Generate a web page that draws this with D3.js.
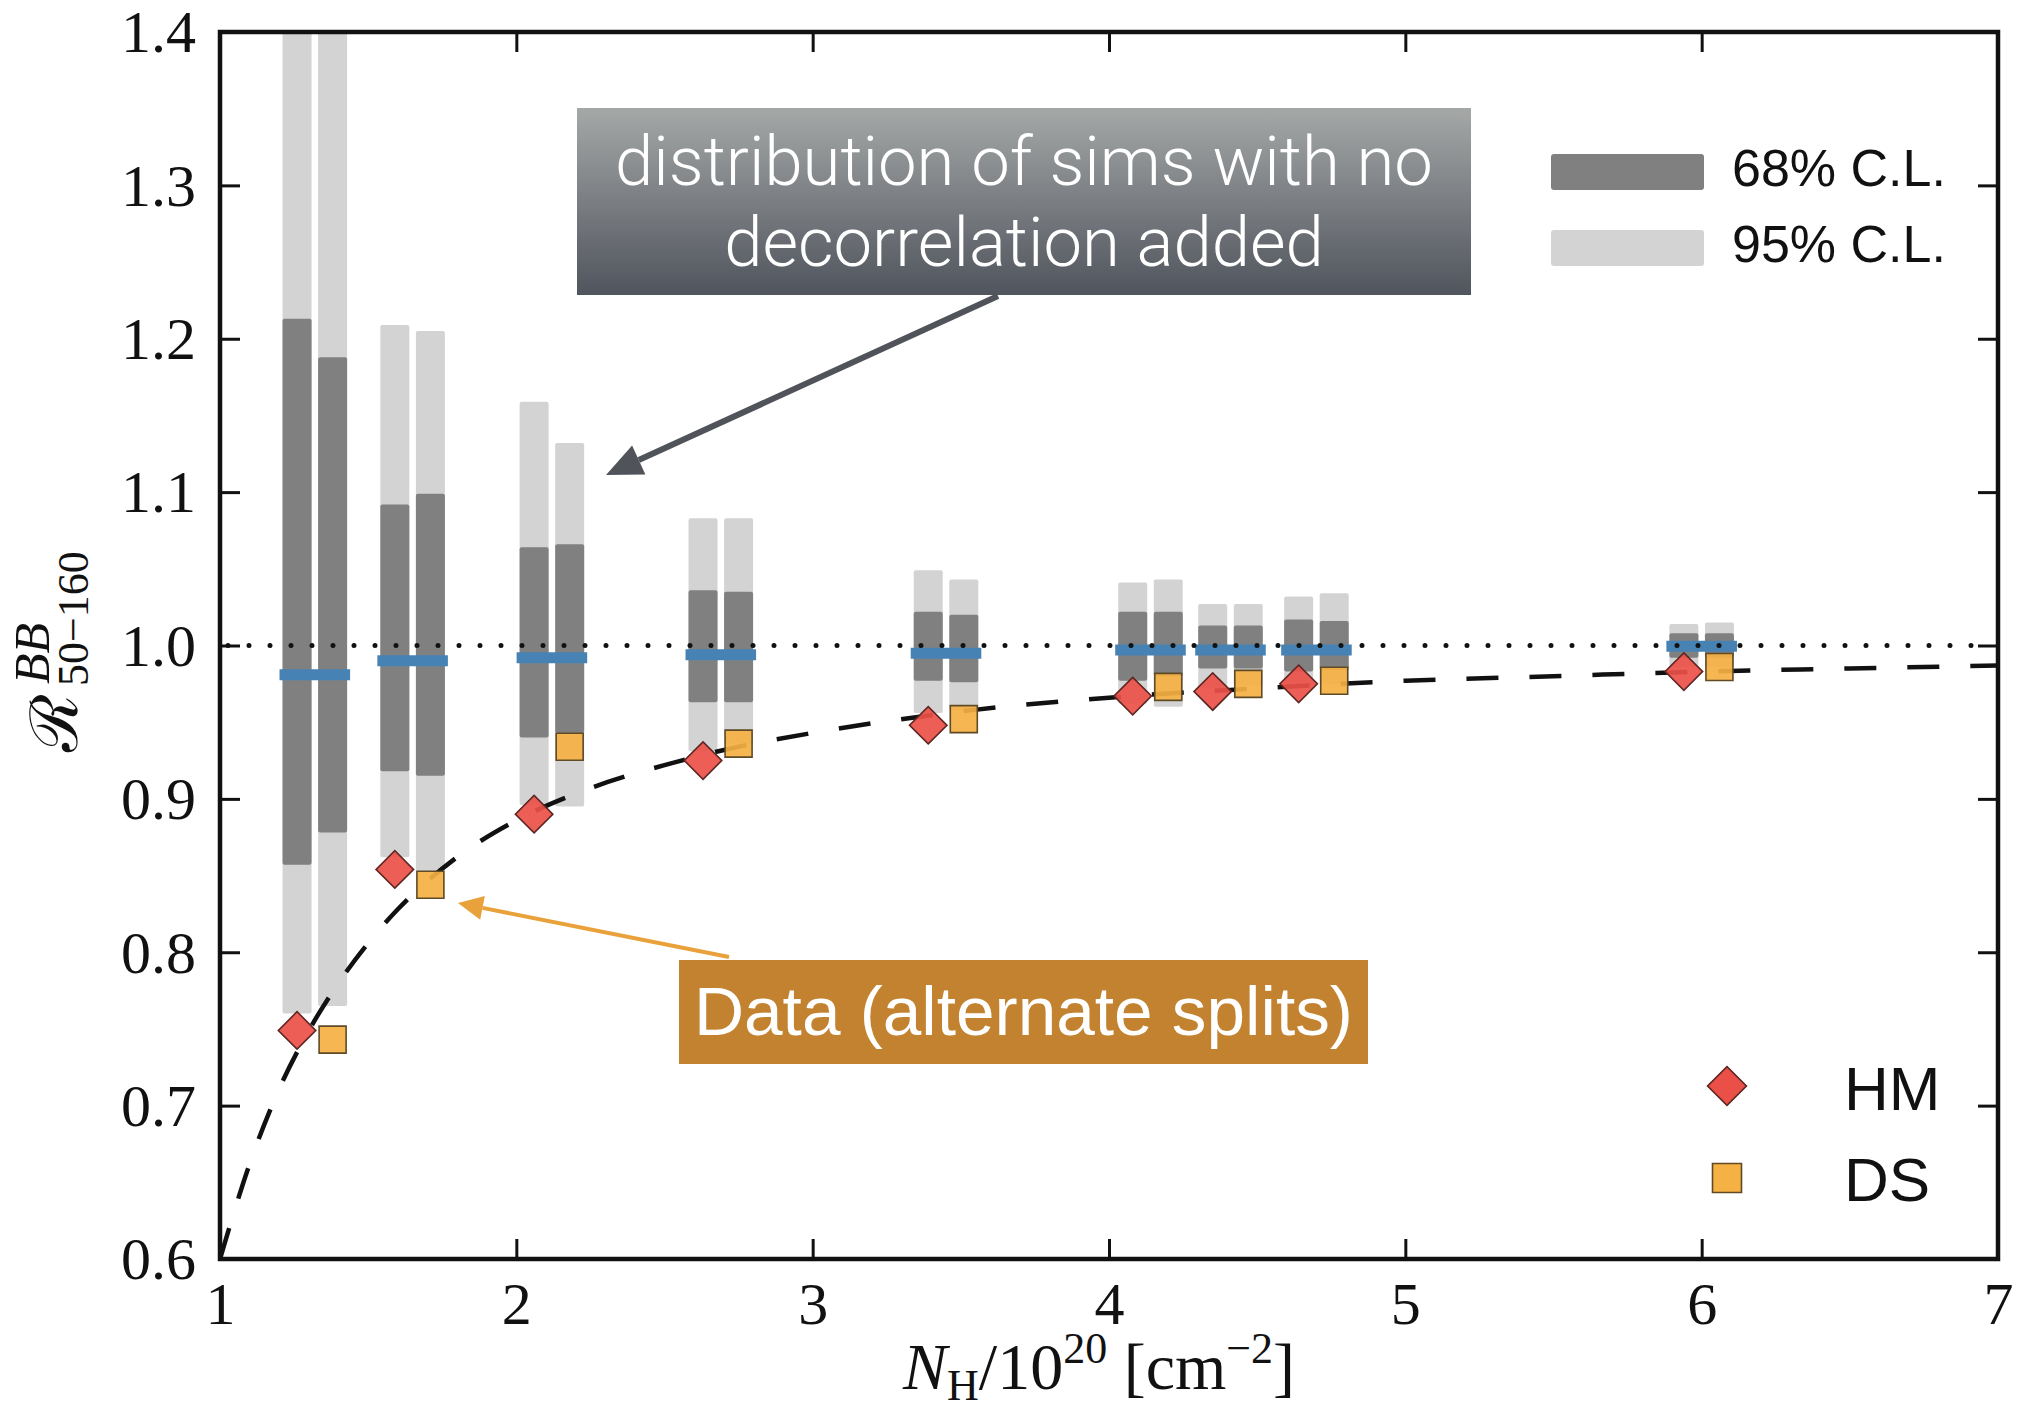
<!DOCTYPE html>
<html>
<head>
<meta charset="utf-8">
<script src="https://cdn.jsdelivr.net/npm/d3@7/dist/d3.min.js"></script>
<style>
  html, body { margin: 0; padding: 0; background: #fff; }
  svg { display: block; }
  .tick text { font-family: "Liberation Serif", "Times New Roman", serif; fill: #111; }
</style>
</head>
<body>
<div id="chart"></div>
<script>
// N_H positions of the two splits (HM slightly left, DS slightly right)
const hmX = [1.26, 1.59, 2.06, 2.63, 3.39, 4.08, 4.35, 4.64, 5.94];
const dsX = [1.38, 1.71, 2.18, 2.75, 3.51, 4.20, 4.47, 4.76, 6.06];

// data points
const hmR = [0.749, 0.854, 0.890, 0.925, 0.948, 0.967, 0.970, 0.975, 0.983];
const dsR = [0.743, 0.844, 0.934, 0.936, 0.952, 0.973, 0.975, 0.977, 0.986];

// sims, HM column: 95% / 68% ranges
const hm95lo = [0.760, 0.862, 0.896, 0.931, 0.956, 0.962, 0.972, 0.974, 0.986];
const hm68lo = [0.857, 0.918, 0.940, 0.963, 0.977, 0.977, 0.985, 0.983, 0.992];
const hm68hi = [1.213, 1.092, 1.064, 1.036, 1.022, 1.022, 1.013, 1.017, 1.008];
const hm95hi = [1.450, 1.209, 1.159, 1.083, 1.049, 1.041, 1.027, 1.032, 1.014];
// sims, DS column
const ds95lo = [0.765, 0.853, 0.895, 0.936, 0.958, 0.960, 0.974, 0.975, 0.986];
const ds68lo = [0.878, 0.915, 0.943, 0.963, 0.976, 0.980, 0.985, 0.984, 0.992];
const ds68hi = [1.188, 1.099, 1.066, 1.035, 1.020, 1.022, 1.013, 1.016, 1.008];
const ds95hi = [1.450, 1.205, 1.132, 1.083, 1.043, 1.043, 1.027, 1.034, 1.015];
// sims median
const simMedian = [0.981, 0.990, 0.992, 0.994, 0.995, 0.997, 0.997, 0.997, 0.9995];

// dashed model curve
const curveX = [1.0, 1.1, 1.2, 1.3, 1.4, 1.5, 1.6, 1.8, 2.0, 2.25, 2.5, 2.75, 3.0, 3.5, 4.0, 4.5, 5.0, 5.5, 6.0, 6.5, 7.0];
const curveY = [0.600, 0.662, 0.711, 0.749, 0.780, 0.806, 0.828, 0.862, 0.886, 0.907, 0.922, 0.934, 0.943, 0.957, 0.966, 0.972, 0.977, 0.980, 0.983, 0.985, 0.987];

const xTicks = [1, 2, 3, 4, 5, 6, 7];
const yTicks = [0.6, 0.7, 0.8, 0.9, 1.0, 1.1, 1.2, 1.3, 1.4];

const W = 2017, H = 1414;
const plot = {left: 220, right: 1998, top: 32, bottom: 1259};

const x = d3.scaleLinear().domain([1, 7]).range([plot.left, plot.right]);
const y = d3.scaleLinear().domain([0.6, 1.4]).range([plot.bottom, plot.top]);

const svg = d3.select("#chart").append("svg")
  .attr("width", W).attr("height", H);

svg.append("rect").attr("width", W).attr("height", H).attr("fill", "#fff");

const defs = svg.append("defs");
defs.append("clipPath").attr("id", "plotclip")
  .append("rect")
  .attr("x", plot.left).attr("y", plot.top)
  .attr("width", plot.right - plot.left).attr("height", plot.bottom - plot.top);

const grad = defs.append("linearGradient").attr("id", "boxgrad")
  .attr("x1", 0).attr("y1", 0).attr("x2", 0).attr("y2", 1);
grad.append("stop").attr("offset", "0%").attr("stop-color", "#a5a8a7");
grad.append("stop").attr("offset", "100%").attr("stop-color", "#50545d");

const g = svg.append("g").attr("clip-path", "url(#plotclip)");

// bars
const barW = 29;
function bars(xs, lo95, hi95, lo68, hi68) {
  g.append("g").selectAll("rect").data(xs).enter().append("rect")
    .attr("x", d => x(d) - barW / 2).attr("width", barW)
    .attr("y", (d, i) => y(hi95[i]))
    .attr("height", (d, i) => y(lo95[i]) - y(hi95[i]))
    .attr("rx", 2).attr("fill", "#d3d3d3");
  g.append("g").selectAll("rect").data(xs).enter().append("rect")
    .attr("x", d => x(d) - barW / 2).attr("width", barW)
    .attr("y", (d, i) => y(hi68[i]))
    .attr("height", (d, i) => y(lo68[i]) - y(hi68[i]))
    .attr("rx", 2).attr("fill", "#808080");
}
bars(hmX, hm95lo, hm95hi, hm68lo, hm68hi);
bars(dsX, ds95lo, ds95hi, ds68lo, ds68hi);

// medians
g.append("g").selectAll("line").data(simMedian).enter().append("line")
  .attr("x1", (d, i) => x(hmX[i]) - barW / 2 - 3)
  .attr("x2", (d, i) => x(dsX[i]) + barW / 2 + 3)
  .attr("y1", d => y(d)).attr("y2", d => y(d))
  .attr("stroke", "#4682b4").attr("stroke-width", 11);

// dotted line at 1
g.append("line")
  .attr("x1", x(1) + 8).attr("x2", x(7) - 20)
  .attr("y1", y(1)).attr("y2", y(1))
  .attr("stroke", "#111").attr("stroke-width", 5)
  .attr("stroke-dasharray", "0 21").attr("stroke-linecap", "round");

// dashed curve
const line = d3.line().x(d => x(d[0])).y(d => y(d[1])).curve(d3.curveMonotoneX);
g.append("path")
  .datum(curveX.map((v, i) => [v, curveY[i]]))
  .attr("d", line)
  .attr("fill", "none").attr("stroke", "#111").attr("stroke-width", 4.5)
  .attr("stroke-dasharray", "32 31");

// markers
const diamond = d3.symbol().type(d3.symbolSquare).size(26.5 * 26.5);
g.append("g").selectAll("path").data(hmX).enter().append("path")
  .attr("d", diamond)
  .attr("transform", (d, i) => `translate(${x(d)},${y(hmR[i])}) rotate(45)`)
  .attr("fill", "#ea5048").attr("fill-opacity", 0.92)
  .attr("stroke", "#5e2622").attr("stroke-width", 1.6);
const square = d3.symbol().type(d3.symbolSquare).size(27 * 27);
g.append("g").selectAll("path").data(dsX).enter().append("path")
  .attr("d", square)
  .attr("transform", (d, i) => `translate(${x(d)},${y(dsR[i])})`)
  .attr("fill", "#f5b144").attr("fill-opacity", 0.92)
  .attr("stroke", "#5f4a26").attr("stroke-width", 1.6);

// axes, ticks inward on all sides
const tickLen = 20;
const fmtY = d3.format(".1f");
const axB = svg.append("g").attr("transform", `translate(0,${plot.bottom})`)
  .call(d3.axisBottom(x).tickValues(xTicks).tickSize(-tickLen).tickPadding(22).tickFormat(d3.format("d")));
const axT = svg.append("g").attr("transform", `translate(0,${plot.top})`)
  .call(d3.axisTop(x).tickValues(xTicks).tickSize(-tickLen).tickFormat(""));
const axL = svg.append("g").attr("transform", `translate(${plot.left},0)`)
  .call(d3.axisLeft(y).tickValues(yTicks).tickSize(-tickLen).tickPadding(24).tickFormat(fmtY));
const axR = svg.append("g").attr("transform", `translate(${plot.right},0)`)
  .call(d3.axisRight(y).tickValues(yTicks).tickSize(-tickLen).tickFormat(""));
[axB, axT, axL, axR].forEach(a => {
  a.select(".domain").remove();
  a.selectAll(".tick line").attr("stroke", "#111").attr("stroke-width", 3);
  a.selectAll(".tick text").attr("font-size", 60).attr("font-family", "Liberation Serif");
});
axL.selectAll(".tick text").attr("dy", "0.33em");

svg.append("rect")
  .attr("x", plot.left).attr("y", plot.top)
  .attr("width", plot.right - plot.left).attr("height", plot.bottom - plot.top)
  .attr("fill", "none").attr("stroke", "#111").attr("stroke-width", 4.5);

// x label
const xl = svg.append("text").attr("x", 903).attr("y", 1389)
  .attr("font-family", "Liberation Serif").attr("font-size", 66).attr("fill", "#111");
xl.append("tspan").attr("font-style", "italic").text("N");
xl.append("tspan").attr("font-size", 44).attr("dy", 11).text("H");
xl.append("tspan").attr("dy", -11).text("/10");
xl.append("tspan").attr("font-size", 44).attr("dy", -26).text("20");
xl.append("tspan").attr("dy", 26).text(" [cm");
xl.append("tspan").attr("font-size", 44).attr("dy", -26).text("\u22122");
xl.append("tspan").attr("dy", 26).text("]");

// y label (rotated)
const yl = svg.append("g").attr("transform", "translate(77,752) rotate(-90)")
  .attr("font-family", "Liberation Serif").attr("fill", "#111");
yl.append("text").attr("x", 0).attr("y", 0).attr("font-size", 66)
  .attr("font-family", "DejaVu Serif").text("\u211B");
yl.append("text").attr("x", 68).attr("y", -28).attr("font-size", 50)
  .attr("font-style", "italic").text("BB");
yl.append("text").attr("x", 66).attr("y", 11).attr("font-size", 44)
  .text("50\u2212160");

// legend: confidence levels
const legCL = [{label: "68% C.L.", fill: "#808080", y: 154}, {label: "95% C.L.", fill: "#d3d3d3", y: 230}];
const lg = svg.append("g");
lg.selectAll("rect").data(legCL).enter().append("rect")
  .attr("x", 1551).attr("y", d => d.y).attr("width", 153).attr("height", 36)
  .attr("rx", 3).attr("fill", d => d.fill);
lg.selectAll("text").data(legCL).enter().append("text")
  .attr("x", 1732).attr("y", d => d.y + 32)
  .attr("font-family", "Liberation Sans").attr("font-size", 52).attr("fill", "#111")
  .text(d => d.label);

// legend: data markers
svg.append("path").attr("d", d3.symbol().type(d3.symbolSquare).size(27.5 * 27.5))
  .attr("transform", "translate(1727,1086) rotate(45)")
  .attr("fill", "#ea5048").attr("stroke", "#5e2622").attr("stroke-width", 1.6);
svg.append("path").attr("d", d3.symbol().type(d3.symbolSquare).size(29 * 29))
  .attr("transform", "translate(1727,1178)")
  .attr("fill", "#f5b144").attr("stroke", "#5f4a26").attr("stroke-width", 1.6);
svg.append("text").attr("x", 1844).attr("y", 1110).attr("font-family", "Liberation Sans")
  .attr("font-size", 62).attr("fill", "#111").text("HM");
svg.append("text").attr("x", 1844).attr("y", 1201).attr("font-family", "Liberation Sans")
  .attr("font-size", 62).attr("fill", "#111").text("DS");

// fit text width helper
function fit(sel, target) {
  const fs = +sel.attr("font-size");
  const w = sel.node().getComputedTextLength();
  if (w > 0) sel.attr("font-size", fs * target / w);
}

// annotation 1: gray box + arrow
function arrow(x1, y1, x2, y2, color, width, headLen, headW) {
  const a = Math.atan2(y2 - y1, x2 - x1);
  const bx = x2 - headLen * Math.cos(a), by = y2 - headLen * Math.sin(a);
  svg.append("line").attr("x1", x1).attr("y1", y1).attr("x2", bx).attr("y2", by)
    .attr("stroke", color).attr("stroke-width", width);
  const px = -Math.sin(a) * headW / 2, py = Math.cos(a) * headW / 2;
  svg.append("path")
    .attr("d", `M${x2},${y2}L${bx + px},${by + py}L${bx - px},${by - py}Z`)
    .attr("fill", color);
}
svg.append("rect").attr("x", 577).attr("y", 108).attr("width", 894).attr("height", 187)
  .attr("fill", "url(#boxgrad)");
const t1 = svg.append("text").attr("x", 1024).attr("y", 185).attr("text-anchor", "middle")
  .attr("font-family", "Roboto").attr("font-weight", 300).attr("font-size", 60)
  .attr("fill", "#fff").text("distribution of sims with no");
fit(t1, 818);
const t2 = svg.append("text").attr("x", 1024).attr("y", 266).attr("text-anchor", "middle")
  .attr("font-family", "Roboto").attr("font-weight", 300).attr("font-size", t1.attr("font-size"))
  .attr("fill", "#fff").text("decorrelation added");
arrow(998, 296, 606, 475, "#50545a", 6, 36, 32);

// annotation 2: orange box + arrow
svg.append("rect").attr("x", 679).attr("y", 960).attr("width", 689).attr("height", 104)
  .attr("fill", "#c3822f");
const t3 = svg.append("text").attr("x", 694).attr("y", 1035)
  .attr("font-family", "Liberation Sans").attr("font-size", 68)
  .attr("fill", "#fff").text("Data (alternate splits)");
fit(t3, 659);
arrow(729, 957, 458, 903, "#e9a23b", 4, 25, 24);
</script>
</body>
</html>
